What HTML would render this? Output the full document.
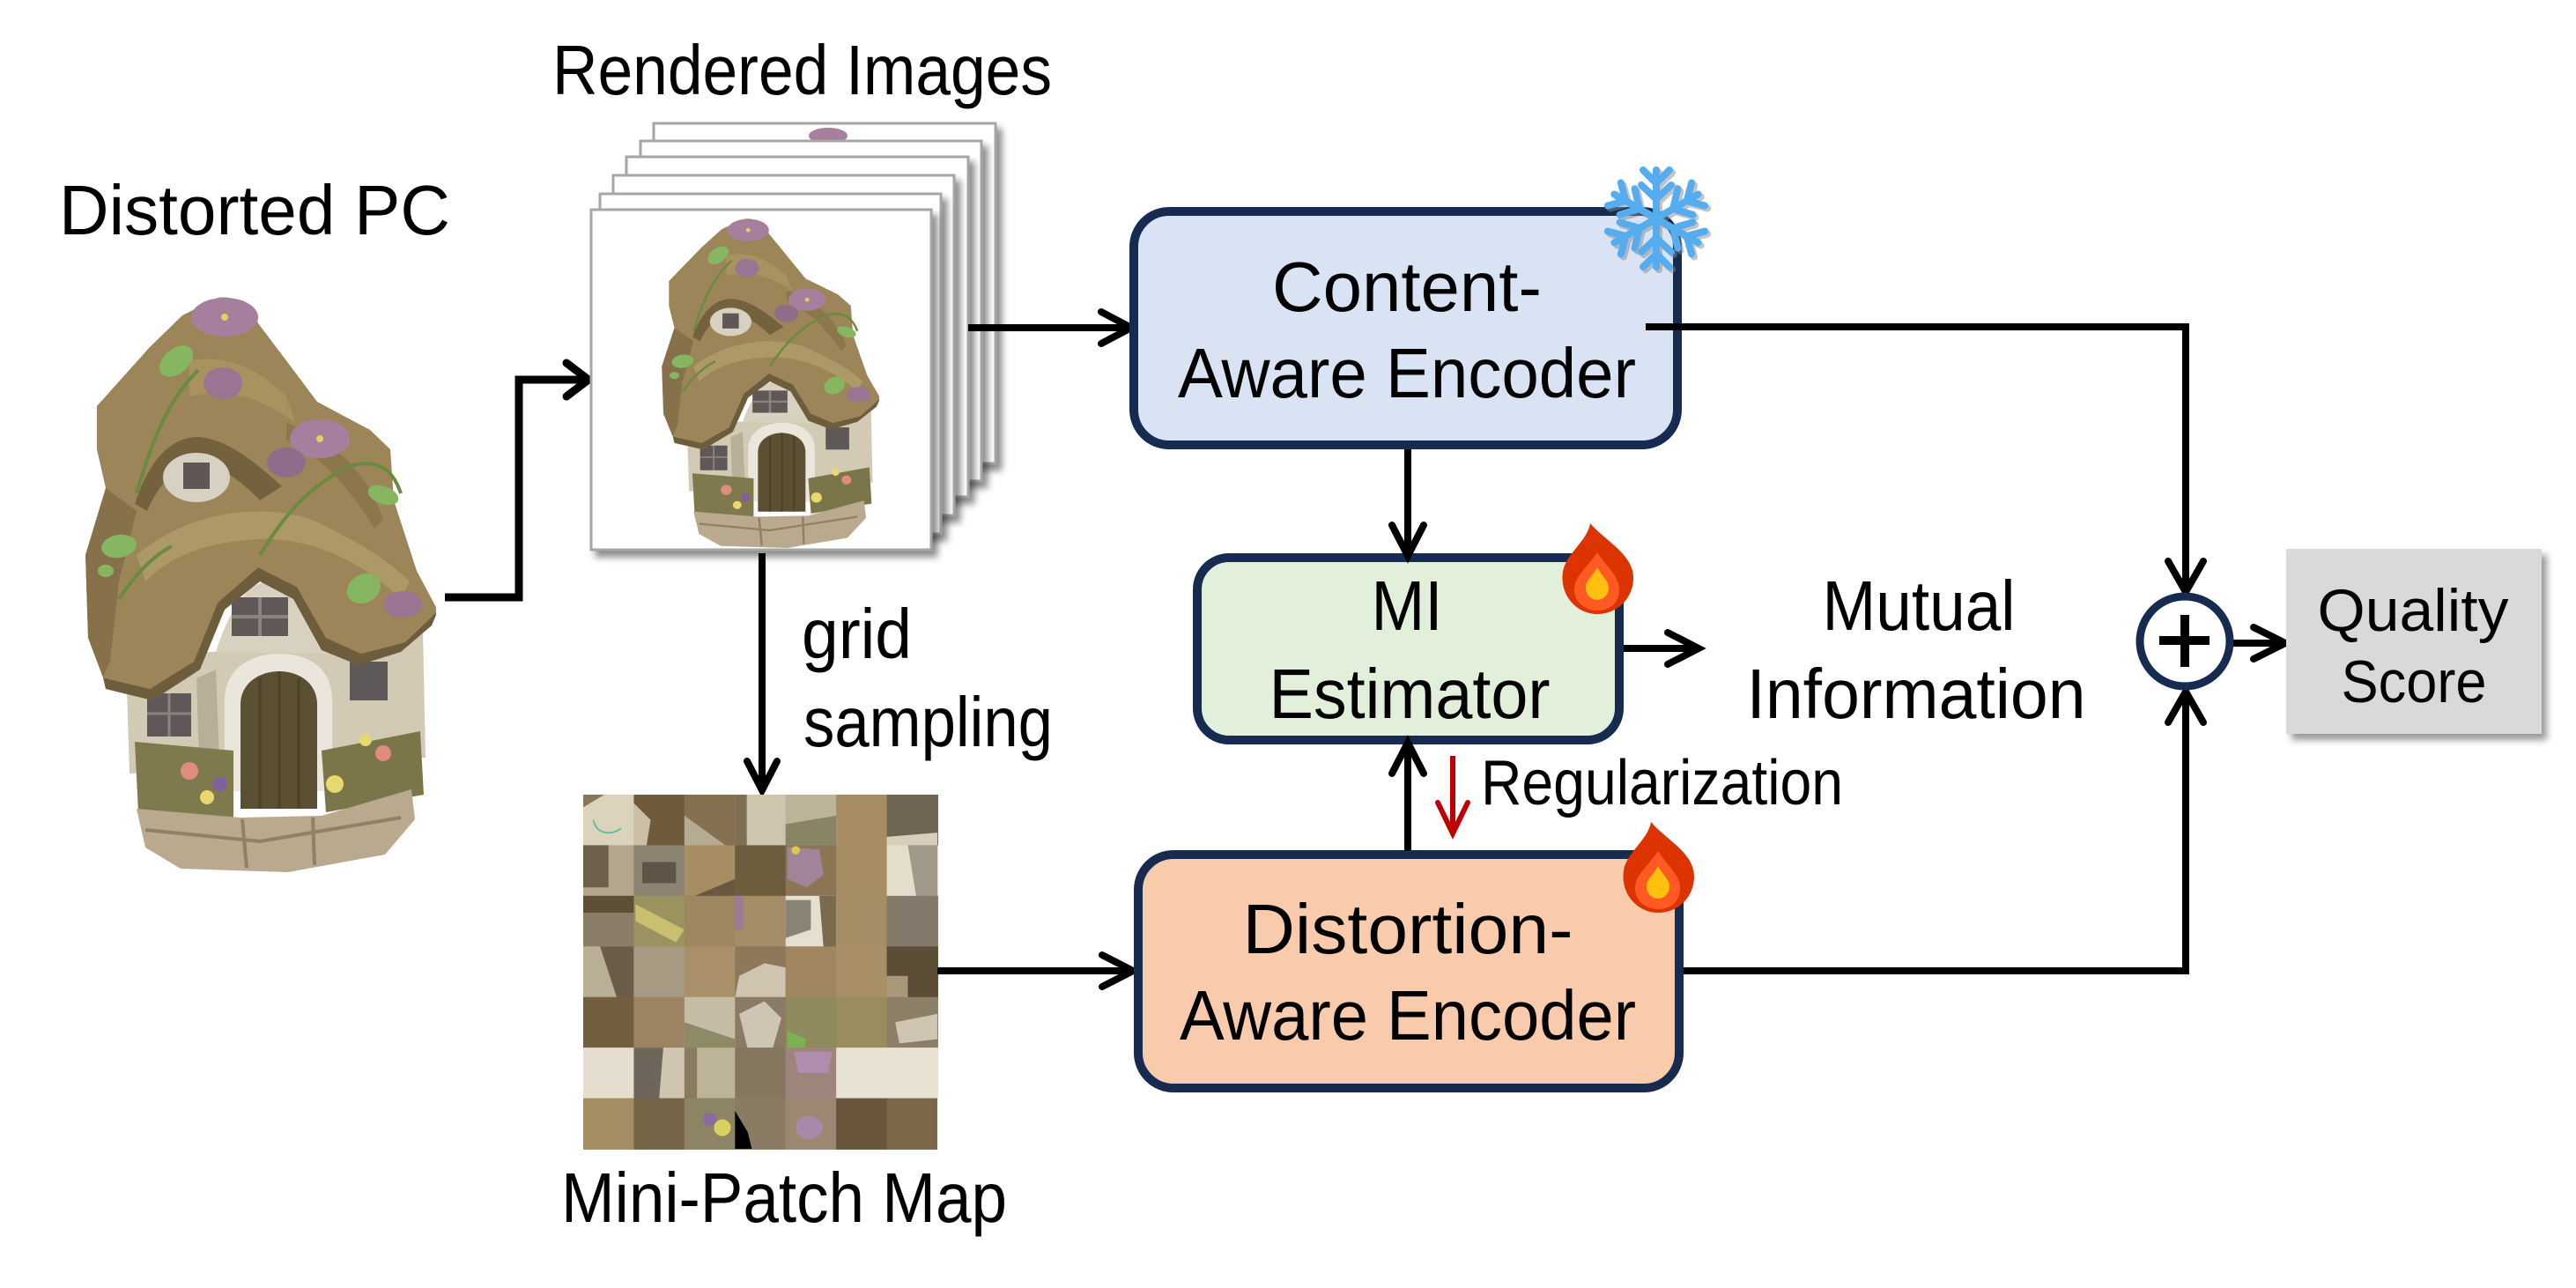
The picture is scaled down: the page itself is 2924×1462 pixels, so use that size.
<!DOCTYPE html>
<html>
<head>
<meta charset="utf-8">
<style>
html,body{margin:0;padding:0;background:#fff;}
svg{display:block;}
</style>
</head>
<body>
<svg xmlns="http://www.w3.org/2000/svg" width="2924" height="1462" viewBox="0 0 2924 1462" font-family="'Liberation Sans', sans-serif">
<defs>
  <filter id="sh" x="-10%" y="-10%" width="130%" height="130%">
    <feDropShadow dx="6" dy="7" stdDeviation="4" flood-color="#000" flood-opacity="0.45"/>
  </filter>
  <filter id="sh2" x="-10%" y="-10%" width="130%" height="130%">
    <feDropShadow dx="6" dy="7" stdDeviation="4" flood-color="#000" flood-opacity="0.4"/>
  </filter>
  <symbol id="house" viewBox="0 0 400 660" preserveAspectRatio="none">
    <!-- walls -->
    <path d="M48,420 L385,385 L388,530 L52,548 Z" fill="#d3cab6"/>
    <path d="M150,410 C168,352 192,330 210,330 C240,332 262,360 290,412 Z" fill="#d9d1c0"/>
    <rect x="168" y="348" width="64" height="44" fill="#5f5857"/>
    <path d="M200,348 V392 M168,370 H232" stroke="#8a8280" stroke-width="4"/>
    <rect x="72" y="457" width="50" height="49" fill="#5f5858"/>
    <path d="M97,457 V506 M72,480 H122" stroke="#8a8280" stroke-width="3"/>
    <rect x="302" y="421" width="43" height="44" fill="#5f5858"/>
    <path d="M128,440 L150,430 L155,560 L132,565 Z" fill="#b9ae98"/>
    <!-- door -->
    <path d="M160,568 L160,465 C160,426 194,412 222,412 C252,412 282,426 282,465 L282,568 Z" fill="#ebe6dc"/>
    <path d="M178,588 L178,470 C178,445 200,432 222,432 C244,432 265,445 265,470 L265,588 Z" fill="#5b5033"/>
    <path d="M200,440 V588 M222,432 V588 M244,440 V588" stroke="#4a4128" stroke-width="3"/>
    <!-- roof -->
    <path d="M152,8 C170,5 190,15 198,37 L232,82 L265,126 L325,158 L348,180 L352,238 L378,318 L402,363 L365,399 L315,412 L275,394 L242,336 L198,314 L152,354 L125,421 L75,452 L22,439 L5,394 L2,300 L25,224 L15,180 L15,131 L75,64 L112,28 Z" fill="#9c8659"/>
    <path d="M2,300 L25,224 L60,250 L40,330 L30,420 L22,439 L5,394 Z" fill="#86714a"/>
    <path d="M22,439 L75,452 L125,421 L152,354 L198,314 L242,336 L275,394 L315,412 L365,399 L402,363 L395,380 L360,410 L312,425 L270,408 L238,350 L200,330 L160,362 L132,430 L78,465 L25,452 Z" fill="#6e5d3c"/>
    <path d="M60,300 C120,250 200,240 260,260 C300,280 340,300 370,330 L360,350 C320,310 260,280 200,282 C140,285 100,300 70,330 Z" fill="#ad9868"/>
    <path d="M120,80 C160,70 200,90 230,120 L240,150 C200,120 160,110 120,120 Z" fill="#a8925f"/>
    <path d="M230,150 C280,170 320,200 340,260 L330,270 C300,220 270,190 230,170 Z" fill="#8c774d"/>
    <!-- dormer -->
    <path d="M58,242 C75,190 100,166 130,166 C160,168 190,190 225,222 L200,238 C175,212 150,196 128,196 C105,198 85,220 72,250 Z" fill="#74623f"/>
    <ellipse cx="128" cy="212" rx="38" ry="28" fill="#d8d0c0"/>
    <rect x="113" y="195" width="30" height="30" fill="#5f5757"/>
    <!-- vines -->
    <path d="M60,230 C80,160 100,120 130,90 M200,300 C230,250 260,220 300,200 C330,190 350,200 360,230 M40,350 C60,320 80,300 100,290" stroke="#6a8a40" stroke-width="4" fill="none"/>
    <!-- leaves -->
    <ellipse cx="105" cy="80" rx="22" ry="14" transform="rotate(-40 105 80)" fill="#86b660"/>
    <ellipse cx="40" cy="290" rx="20" ry="13" transform="rotate(-10 40 290)" fill="#86b660"/>
    <ellipse cx="318" cy="338" rx="20" ry="16" transform="rotate(-30 318 338)" fill="#86b660"/>
    <ellipse cx="340" cy="232" rx="18" ry="10" transform="rotate(20 340 232)" fill="#86b660"/>
    <ellipse cx="25" cy="318" rx="9" ry="7" fill="#86b660"/>
    <!-- flowers -->
    <ellipse cx="160" cy="30" rx="38" ry="22" fill="#a67f9e"/>
    <circle cx="160" cy="30" r="4" fill="#e0d060"/>
    <ellipse cx="158" cy="105" rx="22" ry="18" fill="#9a7593"/>
    <ellipse cx="268" cy="168" rx="34" ry="22" fill="#a67f9e"/>
    <circle cx="268" cy="168" r="4" fill="#e0d060"/>
    <ellipse cx="230" cy="195" rx="22" ry="17" fill="#8f6d8a"/>
    <ellipse cx="362" cy="356" rx="22" ry="15" fill="#9a7593"/>
    <!-- flower beds -->
    <path d="M58,512 L170,522 L170,600 L62,592 Z" fill="#7e7a4e"/>
    <path d="M270,522 L382,500 L386,572 L275,592 Z" fill="#7a764a"/>
    <circle cx="120" cy="545" r="10" fill="#e08a80"/>
    <circle cx="140" cy="575" r="8" fill="#e8d870"/>
    <circle cx="155" cy="560" r="8" fill="#8060a0"/>
    <circle cx="340" cy="525" r="9" fill="#e08a80"/>
    <circle cx="285" cy="560" r="10" fill="#e8d870"/>
    <circle cx="320" cy="510" r="7" fill="#e8d870"/>
    <!-- base -->
    <path d="M60,588 L178,598 L270,596 L372,566 L376,600 L342,640 L232,660 L110,656 L70,632 Z" fill="#b9a98e"/>
    <path d="M70,612 L200,625 L360,598 M180,600 L185,655 M260,598 L262,652" stroke="#8f8068" stroke-width="4" fill="none"/>
  </symbol>
  <symbol id="flame" viewBox="0 0 82 103">
    <path d="M33,0 C30,20 5,35 2,55 C-2,82 18,103 41,103 C64,103 82,85 82,62 C82,35 50,20 33,0 Z" fill="#dd3300"/>
    <path d="M41,33 C30,50 15,60 15,75 C15,90 28,99 41,99 C56,99 66,90 66,75 C66,60 52,50 41,33 Z" fill="#ff5a22"/>
    <path d="M41,50 C36,60 28,65 28,73 C28,81 34,87 41,87 C48,87 54,81 54,73 C54,65 46,60 41,50 Z" fill="#ffc010"/>
  </symbol>
  <g id="snow">
    <g stroke-width="8" stroke-linecap="round" fill="none">
      <path d="M0,-55 V55 M-47.6,-27.5 L47.6,27.5 M-47.6,27.5 L47.6,-27.5"/>
      <g id="br">
        <path d="M0,-40 L-15,-55 M0,-40 L15,-55 M0,-22 L-17,-38 M0,-22 L17,-38"/>
      </g>
      <use href="#br" transform="rotate(60)"/>
      <use href="#br" transform="rotate(120)"/>
      <use href="#br" transform="rotate(180)"/>
      <use href="#br" transform="rotate(240)"/>
      <use href="#br" transform="rotate(300)"/>
    </g>
  </g>
</defs>

<rect width="2924" height="1462" fill="#fff"/>

<!-- Labels -->
<text x="67" y="266" font-size="80" textLength="444" lengthAdjust="spacingAndGlyphs">Distorted PC</text>
<text x="627" y="107" font-size="80" textLength="567" lengthAdjust="spacingAndGlyphs">Rendered Images</text>

<!-- Left house -->
<use href="#house" x="95" y="330" width="400" height="660"/>

<!-- Arrow house -> rendered -->
<g stroke="#000" stroke-width="9" fill="none" stroke-linecap="round" stroke-linejoin="miter">
  <polyline points="505,678 589,678 589,431 664,431" stroke-linecap="butt"/>
  <polyline points="643,412 668,431 643,450"/>
</g>

<!-- Rendered image stack -->
<g filter="url(#sh)">
  <rect x="742" y="140" width="388" height="386" fill="#fff" stroke="#a6a6a6" stroke-width="3"/>
</g>
<ellipse cx="940" cy="154" rx="22" ry="9" fill="#a67f9e"/>
<g filter="url(#sh)">
  <rect x="727" y="160" width="387" height="386" fill="#fff" stroke="#a6a6a6" stroke-width="3"/>
</g>
<g filter="url(#sh)">
  <rect x="711" y="178" width="388" height="386" fill="#fff" stroke="#a6a6a6" stroke-width="3"/>
</g>
<g filter="url(#sh)">
  <rect x="696" y="199" width="387" height="386" fill="#fff" stroke="#a6a6a6" stroke-width="3"/>
</g>
<g filter="url(#sh)">
  <rect x="681" y="220" width="387" height="386" fill="#fff" stroke="#a6a6a6" stroke-width="3"/>
</g>
<g filter="url(#sh)">
  <rect x="671" y="238" width="386" height="386" fill="#fff" stroke="#a6a6a6" stroke-width="3"/>
</g>
<use href="#house" x="750" y="244" width="248" height="378"/>

<!-- Rendered -> Content encoder -->
<g stroke="#000" stroke-width="8" fill="none" stroke-linecap="round">
  <line x1="1099" y1="372" x2="1280" y2="372" stroke-linecap="butt"/>
  <polyline points="1250,354 1284,372 1250,390"/>
</g>

<!-- Rendered -> mini patch -->
<g stroke="#000" stroke-width="8" fill="none" stroke-linecap="round">
  <line x1="865" y1="628" x2="865" y2="894" stroke-linecap="butt"/>
  <polyline points="848,864 865,897 882,864"/>
</g>

<text x="910" y="747" font-size="80" textLength="125" lengthAdjust="spacingAndGlyphs">grid</text>
<text x="912" y="847" font-size="80" textLength="283" lengthAdjust="spacingAndGlyphs">sampling</text>

<!-- Mini patch map -->
<g transform="translate(662,902) scale(0.9571)">
  <!-- row 0 -->
  <rect x="0" y="0" width="61" height="61" fill="#dcd3bc"/>
  <path d="M0,0 L25,0 L0,15 Z" fill="#8a7658"/>
  <path d="M12,30 C15,45 30,50 45,40" stroke="#6ab8a0" stroke-width="2" fill="none"/>
  <rect x="60" y="0" width="61" height="61" fill="#6f5b3b"/>
  <path d="M60,10 L80,30 L75,61 L60,61 Z" fill="#cbbfa6"/>
  <rect x="120" y="0" width="61" height="61" fill="#85704f"/>
  <path d="M120,25 L170,61 L120,61 Z" fill="#b5aa92"/>
  <rect x="180" y="0" width="61" height="61" fill="#cfc5ae"/>
  <rect x="180" y="0" width="14" height="61" fill="#7d7050"/>
  <rect x="240" y="0" width="61" height="61" fill="#bdb398"/>
  <path d="M240,35 L300,25 L300,61 L240,61 Z" fill="#8a8466"/>
  <rect x="300" y="0" width="61" height="61" fill="#a68d62"/>
  <rect x="360" y="0" width="61" height="61" fill="#6f6552"/>
  <path d="M360,50 L420,45 L420,61 L360,61 Z" fill="#d8cfba"/>
  <!-- row 1 -->
  <rect x="0" y="60" width="61" height="61" fill="#b3a68d"/>
  <rect x="0" y="60" width="30" height="50" fill="#6e604a"/>
  <rect x="60" y="60" width="61" height="61" fill="#8d8372"/>
  <rect x="70" y="80" width="40" height="25" fill="#5f5448"/>
  <rect x="120" y="60" width="61" height="61" fill="#a68d62"/>
  <path d="M130,121 L180,100 L180,121 Z" fill="#6a5840"/>
  <rect x="180" y="60" width="61" height="61" fill="#6d5d3c"/>
  <rect x="240" y="60" width="61" height="61" fill="#8c7656"/>
  <path d="M242,62 L280,65 L285,95 L265,110 L242,100 Z" fill="#a0849a"/>
  <circle cx="252" cy="66" r="5" fill="#d8c850"/>
  <rect x="300" y="60" width="61" height="61" fill="#a68d62"/>
  <rect x="360" y="60" width="61" height="61" fill="#e5ddcb"/>
  <path d="M385,60 L420,60 L420,121 L395,121 Z" fill="#a09888"/>
  <!-- row 2 -->
  <rect x="0" y="120" width="61" height="61" fill="#8a7e68"/>
  <rect x="0" y="120" width="61" height="20" fill="#5f4f36"/>
  <rect x="60" y="120" width="61" height="61" fill="#9a9360"/>
  <path d="M62,130 L120,160 L110,175 L62,150 Z" fill="#c8c070"/>
  <rect x="120" y="120" width="61" height="61" fill="#9e8660"/>
  <rect x="180" y="120" width="61" height="61" fill="#a48d66"/>
  <rect x="180" y="120" width="10" height="40" fill="#9a7a98"/>
  <rect x="240" y="120" width="61" height="61" fill="#e6dfcf"/>
  <path d="M240,125 L270,125 L270,160 L240,170 Z" fill="#8a8274"/>
  <path d="M280,120 L300,120 L300,181 L285,181 Z" fill="#7a6a4e"/>
  <rect x="300" y="120" width="61" height="61" fill="#a58d64"/>
  <rect x="360" y="120" width="61" height="61" fill="#847a6c"/>
  <!-- row 3 -->
  <rect x="0" y="180" width="61" height="61" fill="#b9ae96"/>
  <path d="M20,180 L60,180 L60,241 L40,241 Z" fill="#6a5c48"/>
  <rect x="60" y="180" width="61" height="61" fill="#a89983"/>
  <rect x="120" y="180" width="61" height="61" fill="#aa9068"/>
  <rect x="180" y="180" width="61" height="61" fill="#8d785a"/>
  <path d="M180,241 L185,215 L215,200 L240,205 L240,241 Z" fill="#cfc4b0"/>
  <rect x="240" y="180" width="61" height="61" fill="#9f865e"/>
  <rect x="300" y="180" width="61" height="61" fill="#a88f66"/>
  <rect x="360" y="180" width="61" height="61" fill="#5c4d36"/>
  <rect x="360" y="215" width="25" height="26" fill="#a89878"/>
  <!-- row 4 -->
  <rect x="0" y="240" width="61" height="61" fill="#735e40"/>
  <rect x="60" y="240" width="61" height="61" fill="#9c8462"/>
  <rect x="120" y="240" width="61" height="61" fill="#c5bca6"/>
  <path d="M120,270 L180,290 L180,301 L120,301 Z" fill="#8e8a66"/>
  <rect x="180" y="240" width="61" height="61" fill="#8a7a66"/>
  <path d="M185,260 L215,245 L235,265 L225,300 L195,301 Z" fill="#cfc5b4"/>
  <rect x="240" y="240" width="61" height="61" fill="#8e8a5e"/>
  <path d="M242,280 L265,290 L262,301 L242,301 Z" fill="#7cb050"/>
  <rect x="300" y="240" width="61" height="61" fill="#9a8c5c"/>
  <rect x="360" y="240" width="61" height="61" fill="#8c7f68"/>
  <path d="M370,270 L420,260 L420,290 L375,295 Z" fill="#cfc5b2"/>
  <!-- row 5 -->
  <rect x="0" y="300" width="61" height="61" fill="#e5dece"/>
  <rect x="60" y="300" width="61" height="61" fill="#cfc5b0"/>
  <path d="M60,300 L95,300 L90,361 L60,361 Z" fill="#6e665a"/>
  <rect x="120" y="300" width="61" height="61" fill="#beb49a"/>
  <rect x="120" y="300" width="15" height="61" fill="#8a7a5e"/>
  <rect x="180" y="300" width="61" height="61" fill="#857660"/>
  <rect x="240" y="300" width="61" height="61" fill="#9e857c"/>
  <path d="M250,305 L295,305 L290,330 L255,330 Z" fill="#b08cae"/>
  <rect x="300" y="300" width="121" height="61" fill="#e8e2d2"/>
  <!-- row 6 -->
  <rect x="0" y="360" width="61" height="61" fill="#a48c63"/>
  <rect x="60" y="360" width="61" height="61" fill="#776547"/>
  <rect x="120" y="360" width="61" height="61" fill="#8c8462"/>
  <circle cx="165" cy="395" r="10" fill="#d8d060"/>
  <circle cx="150" cy="385" r="8" fill="#8a6aa0"/>
  <rect x="180" y="360" width="61" height="61" fill="#8a7c64"/>
  <path d="M180,375 L195,400 L200,420 L180,420 Z" fill="#000"/>
  <rect x="240" y="360" width="61" height="61" fill="#9c8872"/>
  <ellipse cx="268" cy="395" rx="16" ry="14" fill="#a88aa8"/>
  <rect x="300" y="360" width="61" height="61" fill="#6a563a"/>
  <rect x="360" y="360" width="60" height="61" fill="#7c6748"/>
</g>

<text x="637" y="1387" font-size="80" textLength="506" lengthAdjust="spacingAndGlyphs">Mini-Patch Map</text>

<!-- Mini patch -> distortion -->
<g stroke="#000" stroke-width="8" fill="none" stroke-linecap="round">
  <line x1="1064" y1="1102" x2="1282" y2="1102" stroke-linecap="butt"/>
  <polyline points="1251,1084 1286,1102 1251,1120"/>
</g>

<!-- Content encoder box -->
<rect x="1287" y="240" width="617" height="265" rx="40" fill="#dae3f3" stroke="#172b50" stroke-width="10"/>
<text x="1597" y="353" font-size="80" text-anchor="middle" textLength="306" lengthAdjust="spacingAndGlyphs">Content-</text>
<text x="1597" y="451" font-size="80" text-anchor="middle" textLength="520" lengthAdjust="spacingAndGlyphs">Aware Encoder</text>

<!-- snowflake -->
<use href="#snow" transform="translate(1883,251)" stroke="#8a8a8a" opacity="0.5"/>
<use href="#snow" transform="translate(1880,248)" stroke="#55acee"/>

<!-- MI box -->
<rect x="1359" y="633" width="479" height="207" rx="36" fill="#e2efda" stroke="#172b50" stroke-width="10"/>
<text x="1597" y="715" font-size="80" text-anchor="middle" textLength="81" lengthAdjust="spacingAndGlyphs">MI</text>
<text x="1600" y="815" font-size="80" text-anchor="middle" textLength="319" lengthAdjust="spacingAndGlyphs">Estimator</text>
<use href="#flame" x="1772" y="594" width="82" height="103"/>

<!-- Distortion box -->
<rect x="1292" y="970" width="614" height="265" rx="40" fill="#f8cbad" stroke="#172b50" stroke-width="10"/>
<text x="1598" y="1082" font-size="80" text-anchor="middle" textLength="375" lengthAdjust="spacingAndGlyphs">Distortion-</text>
<text x="1598" y="1180" font-size="80" text-anchor="middle" textLength="518" lengthAdjust="spacingAndGlyphs">Aware Encoder</text>
<use href="#flame" x="1841" y="933" width="82" height="103"/>

<!-- Content -> MI -->
<g stroke="#000" stroke-width="8" fill="none" stroke-linecap="round">
  <line x1="1598" y1="510" x2="1598" y2="626" stroke-linecap="butt"/>
  <polyline points="1580,596 1598,631 1616,596"/>
</g>

<!-- Distortion -> MI -->
<g stroke="#000" stroke-width="8" fill="none" stroke-linecap="round">
  <line x1="1598" y1="966" x2="1598" y2="848" stroke-linecap="butt"/>
  <polyline points="1580,878 1598,843 1616,878"/>
</g>

<!-- Red regularization arrow -->
<g stroke="#c00000" stroke-width="6" fill="none" stroke-linecap="round">
  <line x1="1649" y1="858" x2="1649" y2="942" stroke-linecap="butt"/>
  <polyline points="1632,911 1649,946 1666,911"/>
</g>
<text x="1681" y="913" font-size="72" textLength="411" lengthAdjust="spacingAndGlyphs">Regularization</text>

<!-- MI -> Mutual Information -->
<g stroke="#000" stroke-width="8" fill="none" stroke-linecap="round">
  <line x1="1843" y1="736" x2="1924" y2="736" stroke-linecap="butt"/>
  <polyline points="1893,718 1928,736 1893,754"/>
</g>
<text x="2178" y="715" font-size="80" text-anchor="middle" textLength="219" lengthAdjust="spacingAndGlyphs">Mutual</text>
<text x="2175" y="815" font-size="80" text-anchor="middle" textLength="385" lengthAdjust="spacingAndGlyphs">Information</text>

<!-- Content -> plus -->
<g stroke="#000" stroke-width="8" fill="none" stroke-linecap="round">
  <polyline points="1868,371 2481,371 2481,667" stroke-linecap="butt" stroke-linejoin="miter"/>
  <polyline points="2461,637 2481,672 2501,637"/>
</g>

<!-- Distortion -> plus -->
<g stroke="#000" stroke-width="8" fill="none" stroke-linecap="round">
  <polyline points="1911,1102 2481,1102 2481,790" stroke-linecap="butt" stroke-linejoin="miter"/>
  <polyline points="2461,820 2481,785 2501,820"/>
</g>

<!-- Plus circle -->
<circle cx="2480" cy="728" r="51" fill="#fff" stroke="#172b50" stroke-width="9"/>
<path d="M2451,727 H2508 M2480,698 V757" stroke="#000" stroke-width="10"/>

<!-- plus -> quality -->
<g stroke="#000" stroke-width="8" fill="none" stroke-linecap="round">
  <line x1="2535" y1="730" x2="2590" y2="730" stroke-linecap="butt"/>
  <polyline points="2558,712 2594,730 2558,748"/>
</g>

<!-- Quality score box -->
<g filter="url(#sh2)">
  <rect x="2595" y="623" width="290" height="210" fill="#d9d9d9"/>
</g>
<text x="2739" y="716" font-size="68" text-anchor="middle" textLength="217" lengthAdjust="spacingAndGlyphs">Quality</text>
<text x="2740" y="797" font-size="68" text-anchor="middle" textLength="165" lengthAdjust="spacingAndGlyphs">Score</text>

</svg>
</body>
</html>
